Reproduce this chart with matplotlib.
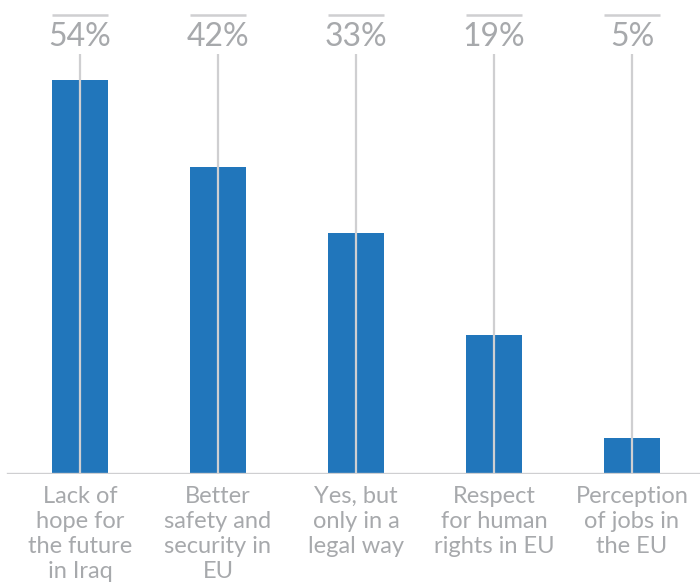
import matplotlib
matplotlib.use("Agg")
import matplotlib.pyplot as plt

# reasons given (share of respondents, %)
categories = ["Lack of\nhope for\nthe future\nin Iraq",
              "Better\nsafety and\nsecurity in\nEU",
              "Yes, but\nonly in a\nlegal way",
              "Respect\nfor human\nrights in EU",
              "Perception\nof jobs in\nthe EU"]
values = [54, 42, 33, 19, 5]
value_labels = ["54%", "42%", "33%", "19%", "5%"]

BAR_COLOR = "#2176bb"
LINE_COLOR = "#cfcfd1"
TEXT_COLOR = "#a7a9ac"

W, H = 700, 587
fig = plt.figure(figsize=(W / 100, H / 100), dpi=100)
base_px = 474
ax = fig.add_axes([0, (H - base_px) / H, 1, base_px / H])
ax.set_xlim(-80 / 138, 4 + 68 / 138)
ax.set_ylim(0, base_px / 7.3)
ax.axis("off")

xs = range(len(values))
ax.bar(xs, values, width=0.4, color=BAR_COLOR, zorder=2)

for x, lab in zip(xs, value_labels):
    # thin marker line through each bar
    ax.plot([x, x], [0, 57.6], color=LINE_COLOR, lw=1.6, zorder=3,
            solid_capstyle="butt")
    ax.plot([x - 0.2, x + 0.2], [62.9, 62.9], color=LINE_COLOR, lw=1.8,
            solid_capstyle="butt")
    ax.text(x, 59.9, lab, ha="center", va="center", fontsize=23,
            color=TEXT_COLOR, family=["Lato", "DejaVu Sans"])

ax.axhline(0, xmin=8 / W, xmax=1, color=LINE_COLOR, lw=2.4, zorder=4)

for x, cat in zip(xs, categories):
    ax.text(x, -1.6, cat, ha="center", va="top", fontsize=17,
            color=TEXT_COLOR, family=["Lato", "DejaVu Sans"],
            linespacing=1.25, clip_on=False)

fig.savefig("out.png", dpi=100)
